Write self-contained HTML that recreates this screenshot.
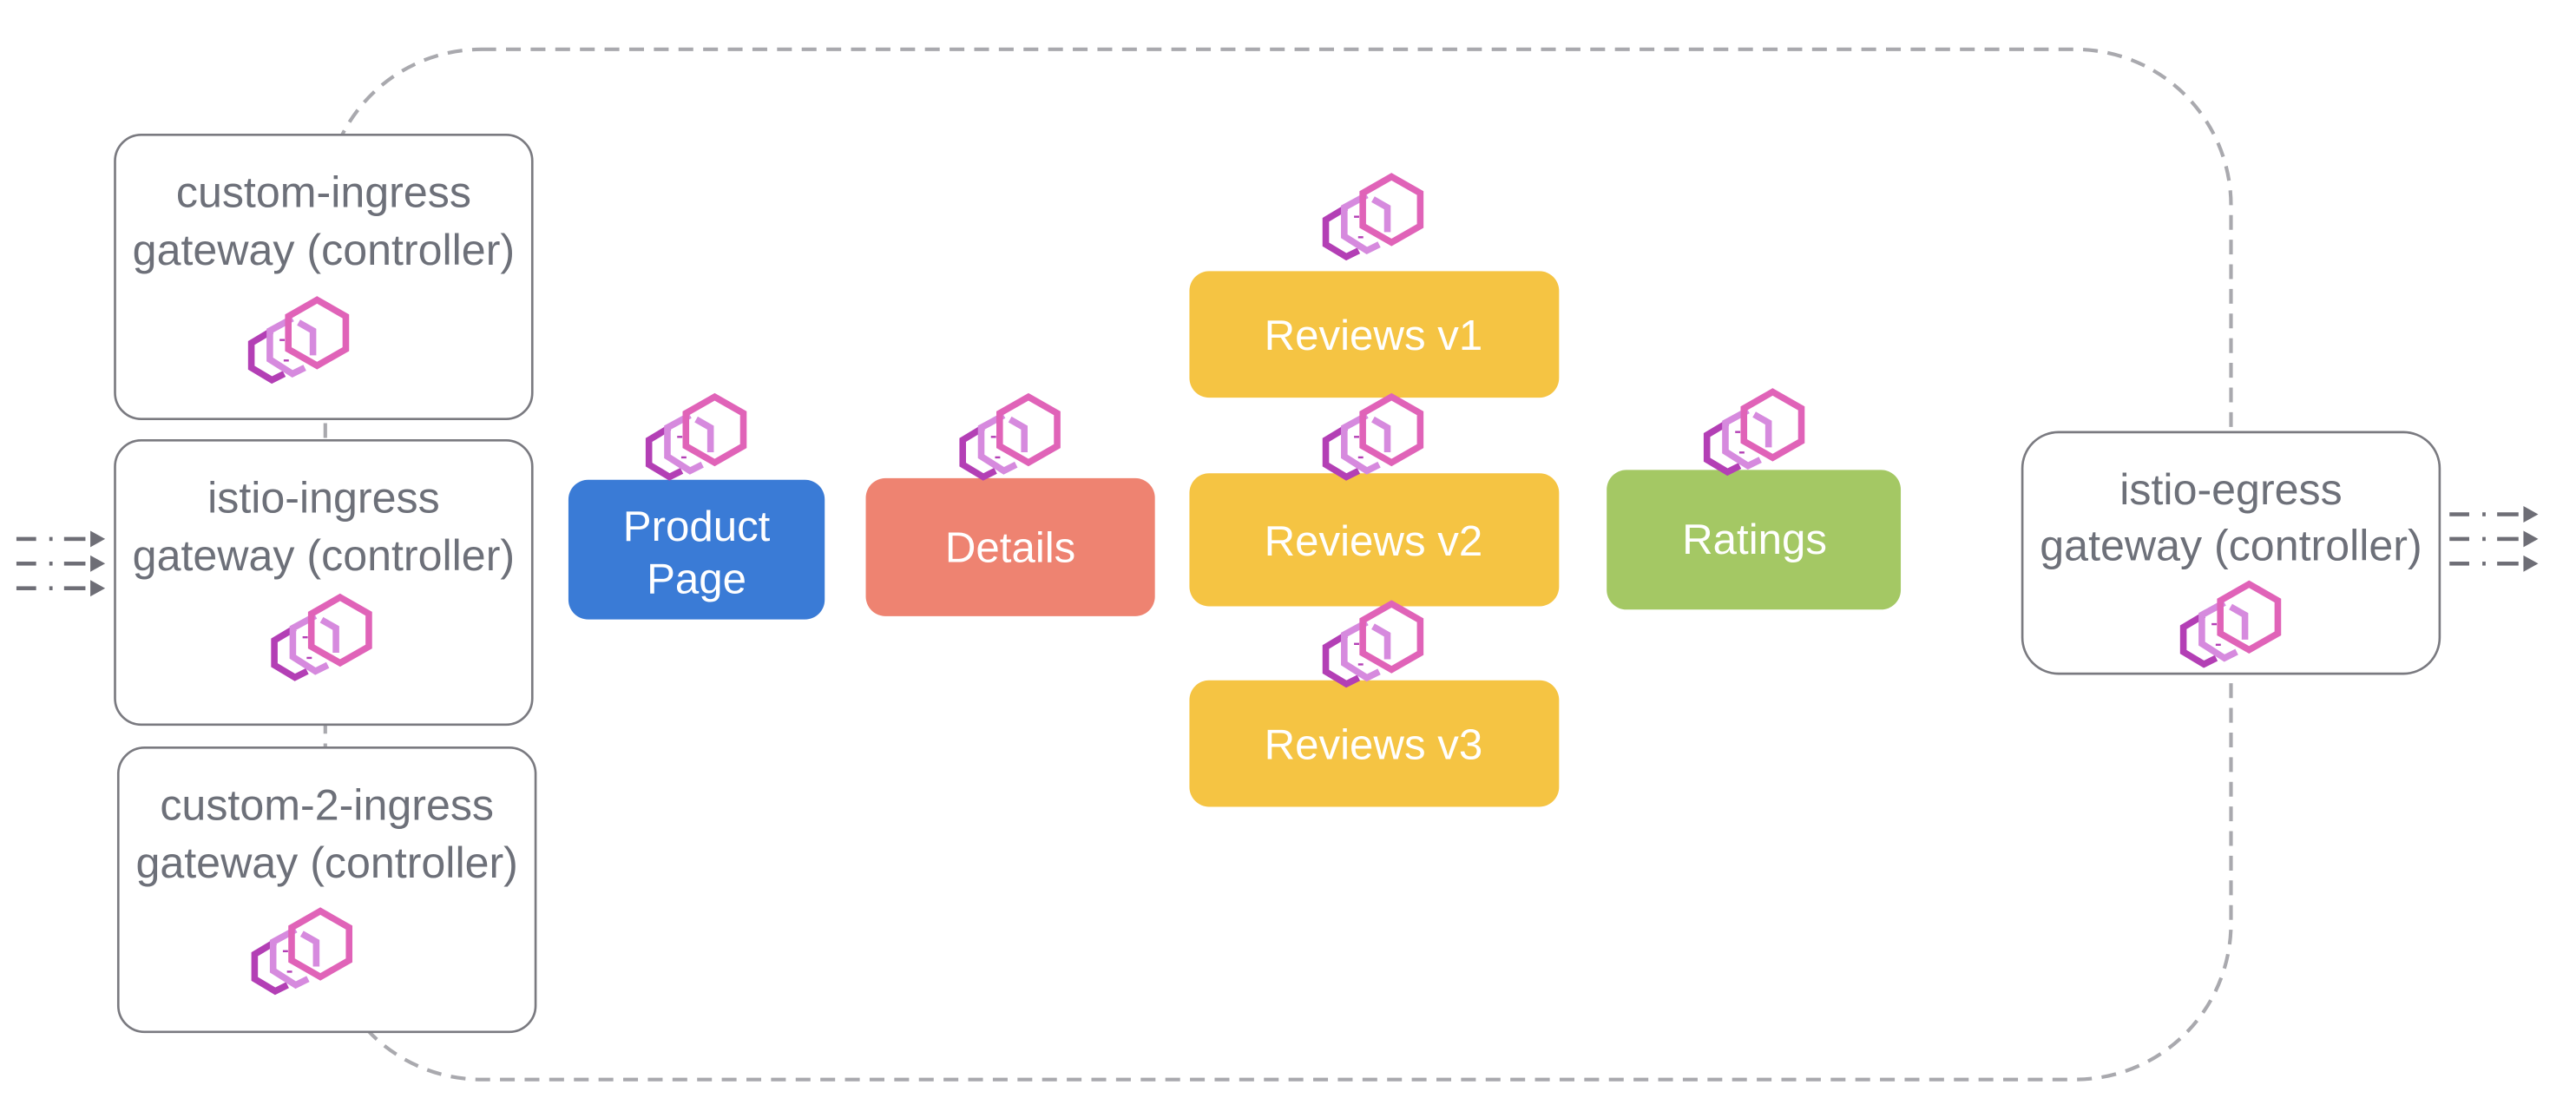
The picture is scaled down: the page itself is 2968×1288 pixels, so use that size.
<!DOCTYPE html>
<html><head><meta charset="utf-8"><style>html,body{margin:0;padding:0;background:#fff}svg{display:block}</style></head>
<body>
<svg width="2968" height="1288" viewBox="0 0 1568 680.4" xmlns="http://www.w3.org/2000/svg">
<defs>
<g id="ic0" fill="none" stroke-width="3.2" stroke-linejoin="miter">
<path d="M-10,-3 L-20,3 L-20,15 L-10,21 L-4,18" stroke="#b33fb5"/>
<path d="M0,-9 L-11,-3 L-11,11 L0,18 L6,15" stroke="#d68ade"/>
<path d="M-5,1 L-5,2 M-3,11 L-3,12" stroke="#b33fb5" stroke-width="2.5"/>
<path d="M12,-18 L26,-10 L26,6 L12,14 L-2,6 L-2,-10 Z" stroke="#e063b8"/>
<path d="M3,-7 L10,-3 L10,9" stroke="#d68ade"/>
</g>
<g id="ic"><use href="#ic0" transform="translate(4,0) scale(1.25)"/></g>
<g id="arr" fill="#6e6e76">
<rect x="0" y="-1.2" width="12" height="2.4"/><rect x="20" y="-1.2" width="2" height="2.4"/><rect x="29" y="-1.2" width="13" height="2.4"/>
<path d="M45,-5 L54,0 L45,5 Z"/>
</g>
</defs>
<rect x="198" y="30" width="1160" height="627" rx="95" fill="none" stroke="#a9a9ae" stroke-width="2.2" stroke-dasharray="9,6"/>

<g fill="#fff" stroke="#7a7a80" stroke-width="1.4">
<rect x="70" y="82" width="254" height="173" rx="16"/>
<rect x="70" y="268" width="254" height="173" rx="16"/>
<rect x="72" y="455" width="254" height="173" rx="16"/>
<rect x="1231" y="263" width="254" height="147" rx="22"/>
</g>
<g fill="#6d7079" font-family="Liberation Sans, sans-serif" font-size="26.5" text-anchor="middle">
<text x="197" y="126">custom-ingress</text><text x="197" y="161">gateway (controller)</text>
<text x="197" y="312">istio-ingress</text><text x="197" y="347">gateway (controller)</text>
<text x="199" y="499">custom-2-ingress</text><text x="199" y="534">gateway (controller)</text>
<text x="1358" y="307">istio-egress</text><text x="1358" y="341">gateway (controller)</text>
</g>
<use href="#ic" x="174" y="205"/>
<use href="#ic" x="188" y="386"/>
<use href="#ic" x="176" y="577"/>
<use href="#ic" x="1350" y="378"/>

<use href="#arr" x="10" y="328"/><use href="#arr" x="10" y="343"/><use href="#arr" x="10" y="358"/>
<use href="#arr" x="1491" y="313"/><use href="#arr" x="1491" y="328"/><use href="#arr" x="1491" y="343"/>

<rect x="346" y="292" width="156" height="85" rx="12" fill="#3a7bd6"/>
<rect x="527" y="291" width="176" height="84" rx="12" fill="#ee8371"/>
<rect x="724" y="165" width="225" height="77" rx="12" fill="#f5c443"/>
<rect x="724" y="288" width="225" height="81" rx="12" fill="#f5c443"/>
<rect x="724" y="414" width="225" height="77" rx="12" fill="#f5c443"/>
<rect x="978" y="286" width="179" height="85" rx="12" fill="#a4c864"/>
<g fill="#fff" font-family="Liberation Sans, sans-serif" font-size="26" text-anchor="middle">
<text x="424" y="329">Product</text><text x="424" y="361">Page</text>
<text x="615" y="342">Details</text>
<text x="836" y="213">Reviews v1</text>
<text x="836" y="338">Reviews v2</text>
<text x="836" y="462">Reviews v3</text>
<text x="1068" y="337">Ratings</text>
</g>
<use href="#ic" x="416" y="264"/>
<use href="#ic" x="607" y="264"/>
<use href="#ic" x="828" y="130"/>
<use href="#ic" x="828" y="264"/>
<use href="#ic" x="828" y="390"/>
<use href="#ic" x="1060" y="261"/>
</svg>
</body></html>
